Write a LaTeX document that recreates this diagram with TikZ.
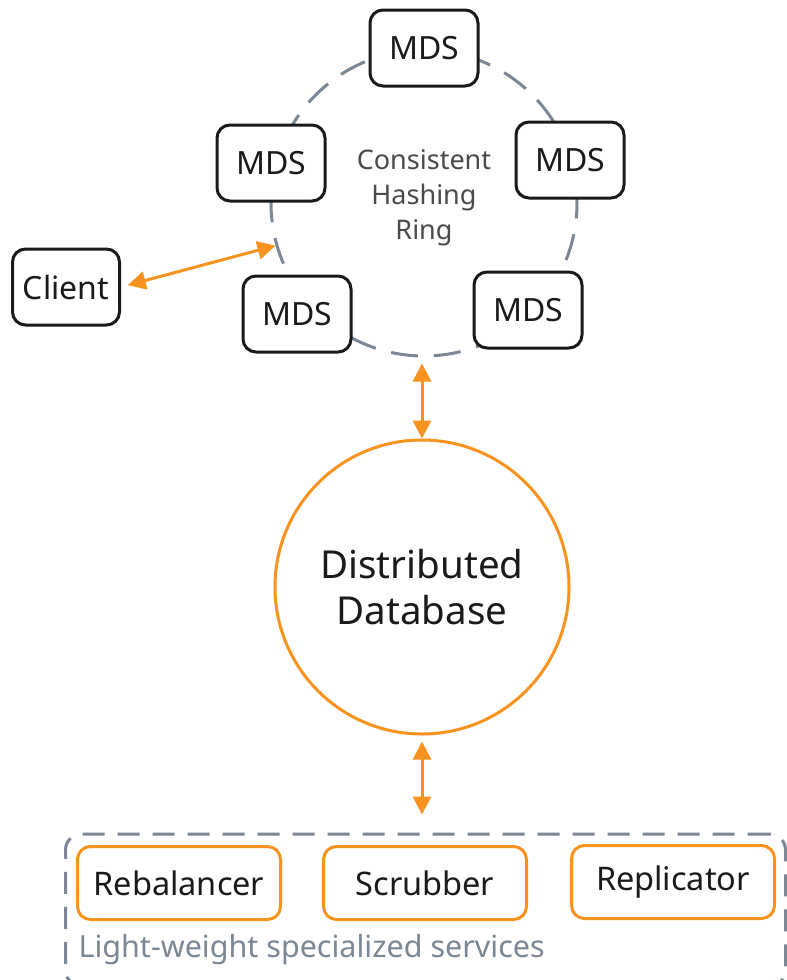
\documentclass[tikz,border=0pt]{standalone}
\usepackage{fontspec}
\setmainfont{Noto Sans}
\usetikzlibrary{arrows.meta}
\definecolor{ringgray}{HTML}{7B8794}
\definecolor{accent}{HTML}{F7931E}
\definecolor{ink}{HTML}{1A1A1A}
\definecolor{labelgray}{HTML}{4A4A4A}
\begin{document}
\begin{tikzpicture}[x=1pt,y=-1pt,
  mds/.style={draw=ink, line width=3pt, rounded corners=13pt, fill=white,
    minimum width=108pt, minimum height=76pt, inner sep=0pt,
    font=\fontsize{32}{38}\selectfont, text=ink},
  svc/.style={draw=accent, line width=3pt, rounded corners=13pt, fill=white,
    minimum width=203pt, minimum height=73pt, inner sep=0pt,
    font=\fontsize{32.5}{38}\selectfont, text=ink},
  link/.style={accent, line width=3pt,
    {Triangle[length=18pt,width=18pt]}-{Triangle[length=18pt,width=18pt]}},
]
\clip (0,0) rectangle (787,980);
\fill[white] (0,0) rectangle (787,980);

% consistent hashing ring
\node[circle, draw=ringgray, line width=3pt, dash pattern=on 27pt off 16pt,
  minimum size=306pt, inner sep=0pt] (ring) at (424,203) {};
\node[align=center, text=labelgray, font=\fontsize{27}{35}\selectfont]
  (ringlabel) at (424,198) {Consistent\\Hashing\\Ring};

% metadata servers on the ring
\node[mds] (mdsTop) at (424,48) {MDS};
\node[mds] (mdsLeft) at (271,163) {MDS};
\node[mds] (mdsRight) at (570,160) {MDS};
\node[mds] (mdsLowLeft) at (297,314) {MDS};
\node[mds] (mdsLowRight) at (528,310) {MDS};

% client
\node[mds, minimum width=107pt] (client) at (66,287) {Client};

% distributed database
\node[circle, draw=accent, line width=3pt, minimum size=294pt, inner sep=0pt,
  align=center, text=ink, font=\fontsize{38.5}{46}\selectfont]
  (db) at (422,587) {Distributed\\Database};

% group of services
\node[draw=ringgray, line width=3pt, dash pattern=on 22pt off 13pt,
  rounded corners=16pt, minimum width=720pt, minimum height=152pt]
  (group) at (425.5,910) {};
\node[svc] (rebal) at (179,883) {Rebalancer};
\node[svc] (scrub) at (425,883) {Scrubber};
\node[svc] (repl) at (673,882) {Replicator};
\node[anchor=west, text=ringgray, font=\fontsize{30.5}{36}\selectfont]
  (grouplabel) at (75,950) {Light-weight specialized services};

% connections
\draw[link, shorten <=7pt] (client.east) -- (ring.196);
\draw[link, shorten <=6pt] (ring.south -| db.north) -- (db.north);
\draw[link, shorten <=6pt, shorten >=18pt] (db.south) -- (db.south |- group.north);
\end{tikzpicture}
\end{document}
